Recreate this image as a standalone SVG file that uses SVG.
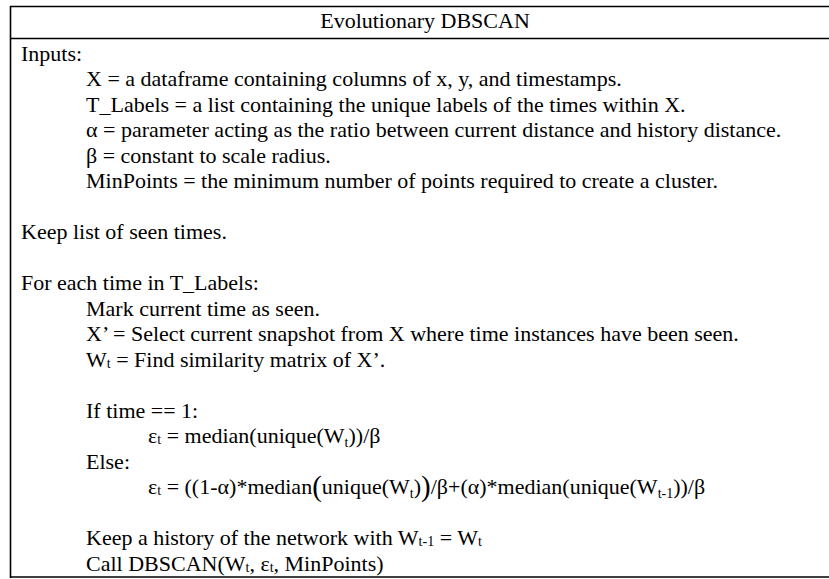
<svg xmlns="http://www.w3.org/2000/svg" width="829" height="579" viewBox="0 0 829 579">
<style>
text{font-family:"Liberation Serif","Times New Roman",serif;font-size:22px;fill:#000}
.sub{font-size:14px}
.big{font-size:29px}
.rule{stroke:#000;stroke-width:1.6;fill:none}
</style>
<rect x="0" y="0" width="829" height="579" fill="#fff"/>
<g id="table">
<line class="rule" x1="10" y1="6.5" x2="829" y2="6.5"/>
<line class="rule" x1="10" y1="38.5" x2="829" y2="38.5"/>
<line class="rule" x1="10" y1="577" x2="829" y2="577"/>
<line class="rule" x1="10.5" y1="6" x2="10.5" y2="578"/>
</g>
<g id="title"><text x="425" y="28" text-anchor="middle">Evolutionary DBSCAN</text></g>
<g id="body">
<text x="21" y="61">Inputs:</text>
<text x="86" y="86">X = a dataframe containing columns of x, y, and timestamps.</text>
<text x="86" y="112">T_Labels = a list containing the unique labels of the times within X.</text>
<text x="86" y="137">α = parameter acting as the ratio between current distance and history distance.</text>
<text x="86" y="163">β = constant to scale radius.</text>
<text x="86" y="188">MinPoints = the minimum number of points required to create a cluster.</text>
<text x="21" y="239">Keep list of seen times.</text>
<text x="21" y="290">For each time in T_Labels:</text>
<text x="86" y="316">Mark current time as seen.</text>
<text x="86" y="341">X’ = Select current snapshot from X where time instances have been seen.</text>
<text x="86" y="367">W<tspan class="sub" dy="1">t</tspan><tspan dy="-1"> = Find similarity matrix of X’.</tspan></text>
<text x="86" y="418">If time == 1:</text>
<text x="148" y="443">ε<tspan class="sub" dy="1">t</tspan><tspan dy="-1"> = median(unique(W</tspan><tspan class="sub" dy="4">t</tspan><tspan dy="-4">))/β</tspan></text>
<text x="86" y="469">Else:</text>
<text x="148" y="494">ε<tspan class="sub" dy="1">t</tspan><tspan dy="-1"> = ((1-α)*median</tspan><tspan class="big" dy="2">(</tspan><tspan dy="-2">unique(W</tspan><tspan class="sub" dy="4">t</tspan><tspan dy="-4">)</tspan><tspan class="big" dy="2">)</tspan><tspan dy="-2">/β+(α)*median(unique(W</tspan><tspan class="sub" dy="4">t-1</tspan><tspan dy="-4">))/β</tspan></text>
<text x="86" y="545">Keep a history of the network with W<tspan class="sub" dy="1">t-1</tspan><tspan dy="-1"> = W</tspan><tspan class="sub" dy="1">t</tspan></text>
<text x="86" y="571">Call DBSCAN(W<tspan class="sub" dy="1">t</tspan><tspan dy="-1">, ε</tspan><tspan class="sub" dy="1">t</tspan><tspan dy="-1">, MinPoints)</tspan></text>
</g>
</svg>
